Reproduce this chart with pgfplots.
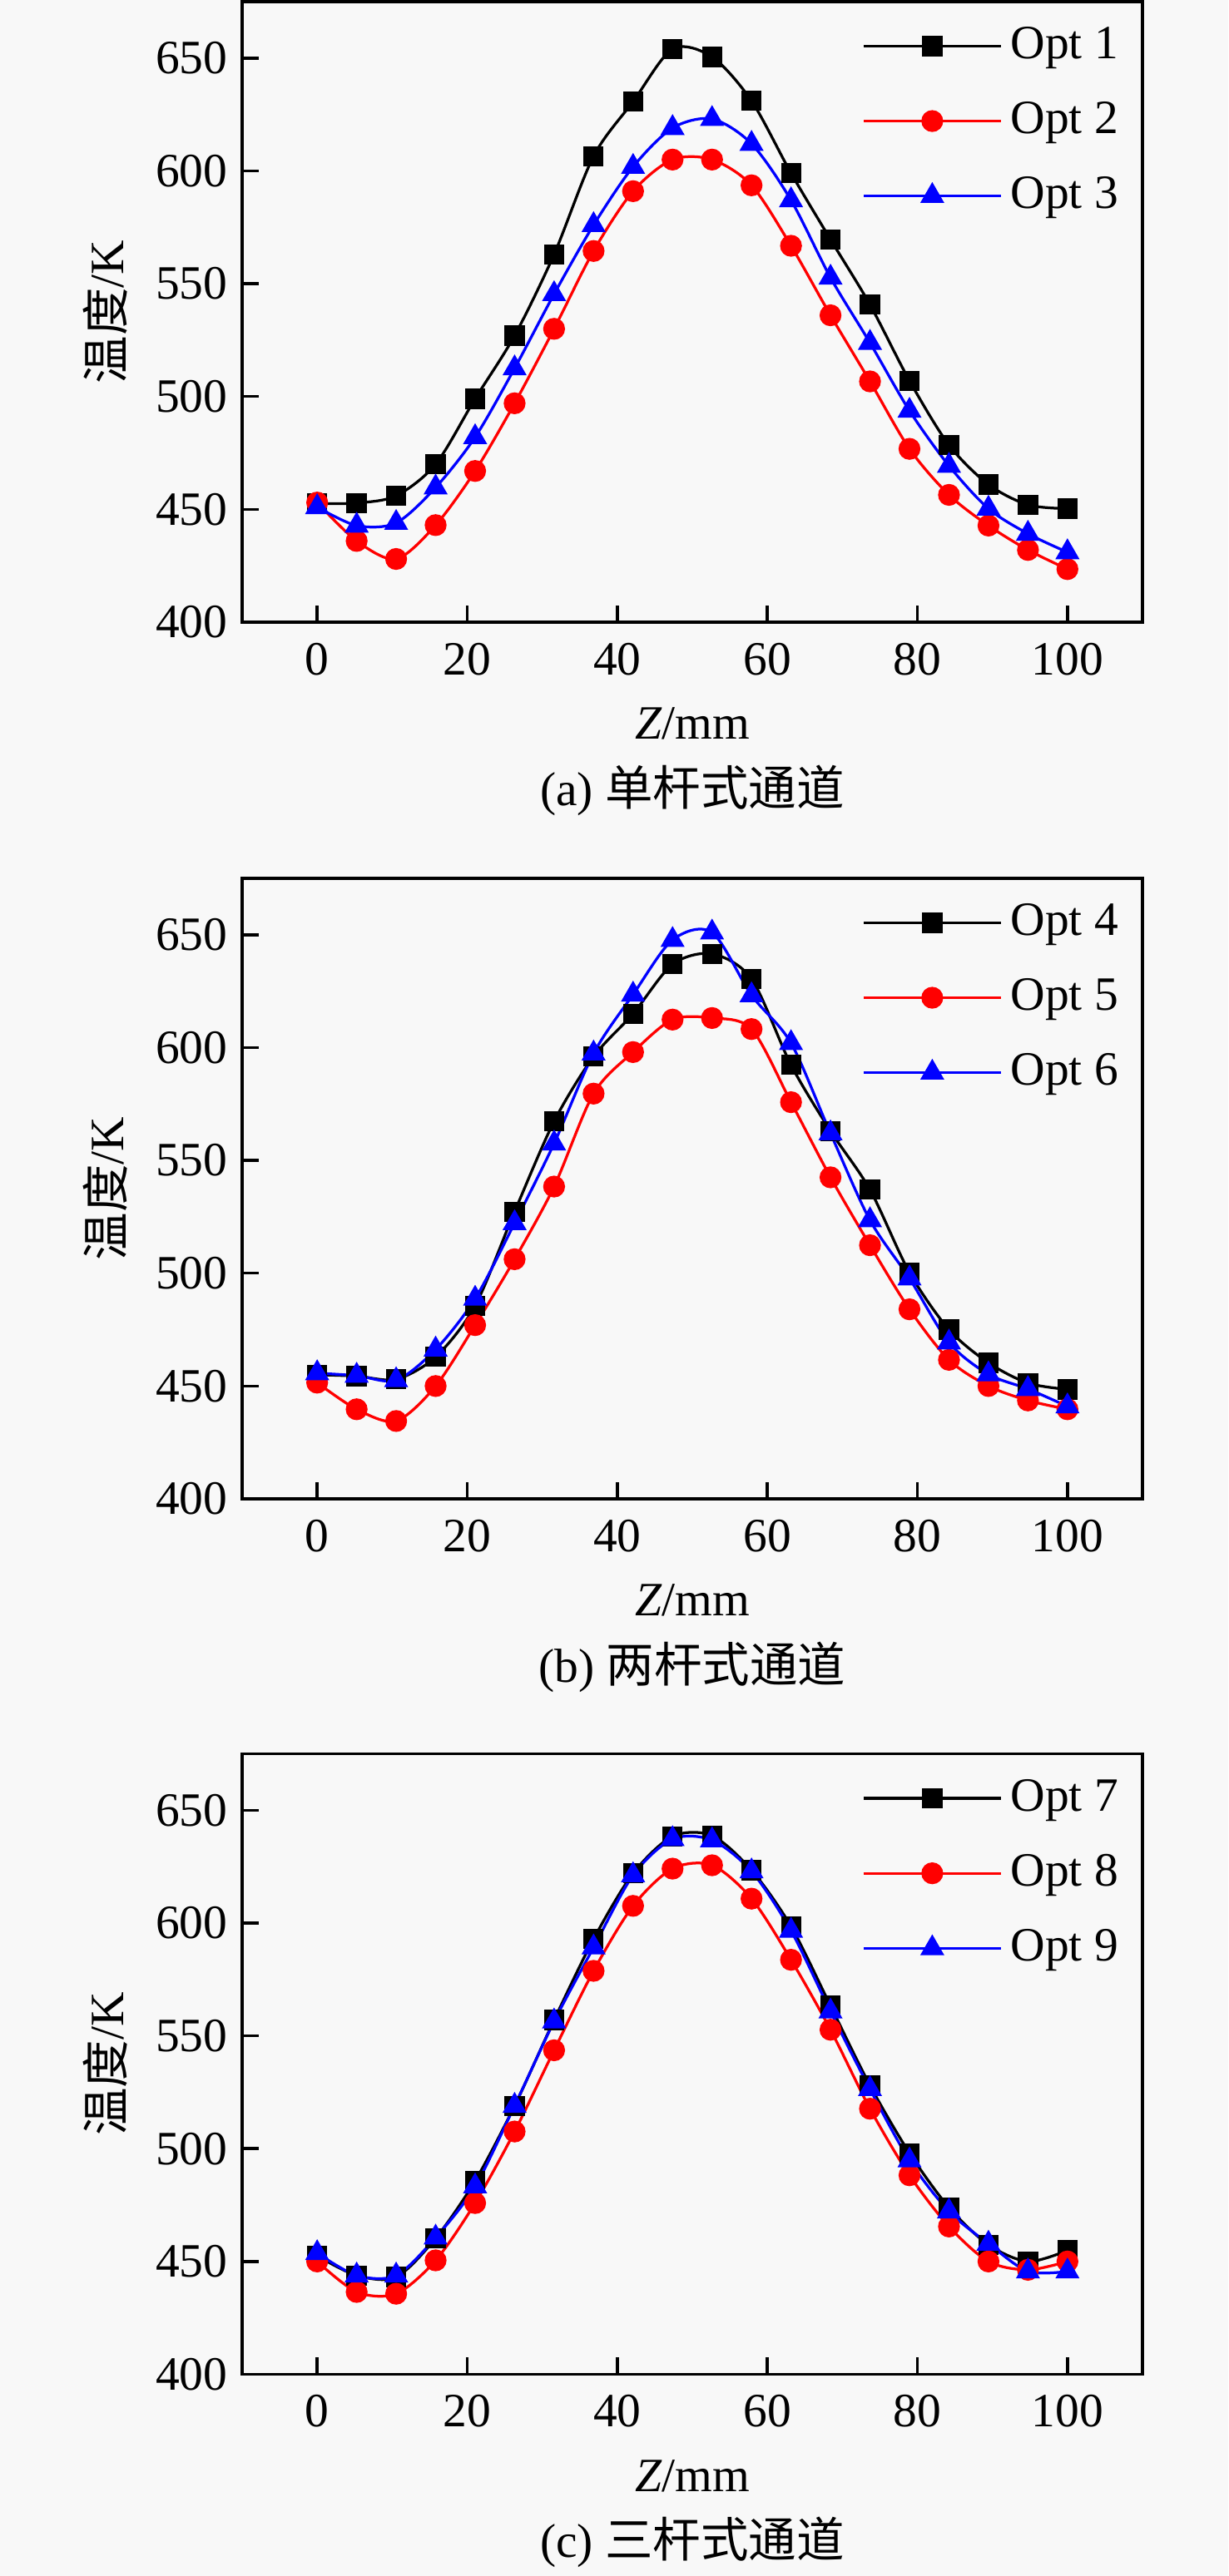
\documentclass[border=0pt]{standalone}
\usepackage{fontspec}
\setmainfont{Liberation Serif}
\newfontfamily\cjk{Noto Sans CJK SC}
\usepackage{pgfplots}
\usepackage{pgfplotstable}
\pgfplotsset{compat=1.18}
\definecolor{bg}{RGB}{248,248,248}

\pgfplotstableread{
x o1 o2 o3
0      452.6 453.0 451.0
5.263  452.8 436.0 442.8
10.526 456.0 428.0 444.0
15.789 470.0 443.0 459.7
21.053 499.0 467.0 482.0
26.316 527.0 497.0 512.5
31.579 563.0 530.0 545.4
36.842 606.5 564.5 576.0
42.105 630.7 591.0 601.8
47.368 654.0 605.0 619.0
52.632 650.5 605.0 623.0
57.895 631.0 593.6 612.0
63.158 599.0 566.8 587.0
68.421 569.6 536.0 552.7
73.684 540.7 506.7 523.8
78.947 507.0 476.8 493.7
84.211 478.5 456.4 469.3
89.474 461.0 442.8 450.3
94.737 452.0 432.0 439.2
100    450.3 423.5 431.0
}\tA

\pgfplotstableread{
x o1 o2 o3
0      455.0 451.5 455.7
5.263  454.4 439.7 454.6
10.526 453.0 434.5 452.6
15.789 462.9 450.0 466.2
21.053 485.6 477.0 488.7
26.316 527.3 506.2 522.2
31.579 567.3 538.4 557.5
36.842 596.0 579.6 597.4
42.105 615.0 598.0 623.5
47.368 636.9 612.4 647.7
52.632 641.5 613.1 651.0
57.895 630.4 608.2 623.2
63.158 592.3 575.8 602.0
68.421 563.0 542.5 562.0
73.684 537.0 512.4 523.5
78.947 500.3 484.0 497.7
84.211 475.0 461.6 469.3
89.474 460.3 450.0 455.2
94.737 451.3 443.6 448.7
100    448.5 439.7 441.0
}\tB

\pgfplotstableread{
x o1 o2 o3
0      452.5 450.0 453.7
5.263  443.8 436.5 443.8
10.526 443.1 435.7 443.8
15.789 460.3 450.5 460.6
21.053 485.7 475.9 483.3
26.316 519.0 507.6 519.0
31.579 557.0 543.6 556.4
36.842 592.9 578.8 589.2
42.105 622.0 607.6 621.2
47.368 638.4 624.1 637.2
52.632 638.7 625.6 636.7
57.895 623.4 610.8 622.9
63.158 598.5 583.7 596.6
68.421 563.3 552.7 560.8
73.684 528.0 517.7 526.4
78.947 498.0 488.2 494.8
84.211 473.9 465.5 472.2
89.474 457.4 450.0 457.9
94.737 450.0 446.3 445.6
100    454.9 450.0 445.6
}\tC

\pgfplotsset{
  panel/.style={
    scale only axis,
    width=216.4pt, height=149.2pt,
    xmin=-10, xmax=110, ymin=400, ymax=675,
    xtick={0,20,...,100}, ytick={400,450,...,650},
    tick align=inside, major tick length=4pt,
    xtick pos=left, ytick pos=left,
    axis line style={line width=0.7pt},
    every tick/.style={black, line width=0.7pt},
    /pgf/number format/assume math mode=true,
    tick label style={font=\fontsize{11.5}{13}\selectfont},
    xticklabel style={yshift=-1.5pt},
    label style={font=\fontsize{11.5}{13}\selectfont},
    xlabel={\textit{Z}/mm},
    xlabel style={at={(axis description cs:0.5,-0.1635)}, anchor=center},
    ylabel style={at={(axis description cs:-0.1516,0.5)}, anchor=center},
    title style={at={(axis description cs:0.5,-0.311)}, anchor=center, font=\fontsize{11.5}{13}\selectfont},
    legend style={draw=none, fill=none, at={(0.674,0.987)}, anchor=north west,
      font=\fontsize{11.5}{13}\selectfont, row sep=4.9pt},
    legend cell align=left,
    legend image code/.code={\draw[mark repeat=2,mark phase=2,##1] plot coordinates {(0pt,0pt) (16.5pt,0pt) (33pt,0pt)};},
  },
  s1/.style={black, line width=0.65pt, smooth, mark=square*, mark size=2.1pt, mark options={solid, fill=black}},
  s2/.style={red, line width=0.65pt, smooth, mark=*, mark size=2.3pt, mark options={solid, fill=red}},
  s3/.style={blue, line width=0.65pt, smooth, mark=triangle*, mark size=2.7pt, mark options={solid, fill=blue}},
}

\begin{document}
\begin{tikzpicture}
\path[use as bounding box, fill=bg] (0,0) rectangle (295.2pt,619.4pt);

\begin{axis}[panel, at={(58.2pt,469.8pt)}, anchor=south west,
  ylabel={{\cjk 温度}/K}, title={(a) {\cjk 单杆式通道}}]
\addplot[s1] table[x=x,y=o1] {\tA}; \addlegendentry{Opt 1}
\addplot[s2] table[x=x,y=o2] {\tA}; \addlegendentry{Opt 2}
\addplot[s3] table[x=x,y=o3] {\tA}; \addlegendentry{Opt 3}
\end{axis}

\begin{axis}[panel, at={(58.2pt,259pt)}, anchor=south west,
  ylabel={{\cjk 温度}/K}, title={(b) {\cjk 两杆式通道}}]
\addplot[s1] table[x=x,y=o1] {\tB}; \addlegendentry{Opt 4}
\addplot[s2] table[x=x,y=o2] {\tB}; \addlegendentry{Opt 5}
\addplot[s3] table[x=x,y=o3] {\tB}; \addlegendentry{Opt 6}
\end{axis}

\begin{axis}[panel, at={(58.2pt,48.5pt)}, anchor=south west,
  ylabel={{\cjk 温度}/K}, title={(c) {\cjk 三杆式通道}}]
\addplot[s1] table[x=x,y=o1] {\tC}; \addlegendentry{Opt 7}
\addplot[s2] table[x=x,y=o2] {\tC}; \addlegendentry{Opt 8}
\addplot[s3] table[x=x,y=o3] {\tC}; \addlegendentry{Opt 9}
\end{axis}
\end{tikzpicture}
\end{document}
